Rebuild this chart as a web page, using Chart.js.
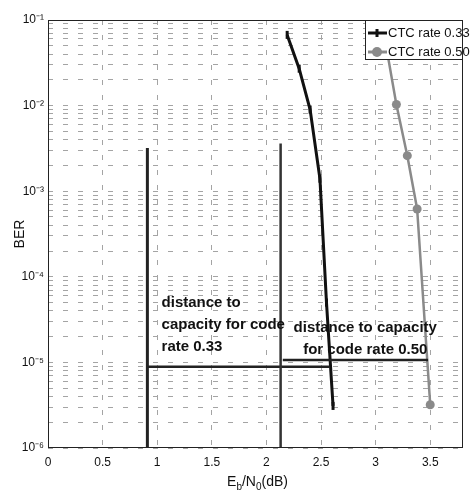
<!DOCTYPE html>
<html>
<head>
<meta charset="utf-8">
<script src="https://cdn.jsdelivr.net/npm/chart.js@4/dist/chart.umd.min.js"></script>
<style>
  html, body { margin: 0; padding: 0; background: #fff; }
  canvas { display: block; }
</style>
</head>
<body>
<canvas id="ber" width="470" height="494"></canvas>
<script>
// values (Eb/N0 in dB, BER)
const ebn0Rate033 = [2.19, 2.30, 2.40, 2.49, 2.55, 2.61];
const berRate033  = [6.7e-2, 2.7e-2, 9.0e-3, 1.4e-3, 5.0e-5, 3.1e-6];
const ebn0Rate050 = [3.08, 3.19, 3.29, 3.38, 3.50];
const berRate050  = [6.5e-2, 1.03e-2, 2.6e-3, 6.2e-4, 3.2e-6];

// capacity limits + distance lines
const capX033 = [0.91, 0.91];
const capY033 = [3.2e-3, 1e-6];
const capX050 = [2.13, 2.13];
const capY050 = [3.6e-3, 1e-6];
const distX033 = [0.91, 2.58];
const distY033 = [8.9e-6, 8.9e-6];
const distX050 = [2.15, 3.48];
const distY050 = [1.07e-5, 1.07e-5];

const xTicks = [0, 0.5, 1, 1.5, 2, 2.5, 3, 3.5];
const decades = [-6, -5, -4, -3, -2, -1];
const supers = {'-': '\u207B', '1': '\u00B9', '2': '\u00B2', '3': '\u00B3', '4': '\u2074', '5': '\u2075', '6': '\u2076'};

function pts(xs, ys) {
  return xs.map((x, i) => ({ x: x, y: ys[i] }));
}

const FONT = '"Liberation Sans Narrow", "Liberation Sans", Arial, sans-serif';

// frame around the axes, like matlab's box on
const framePlugin = {
  id: 'frame',
  afterDraw(chart) {
    const a = chart.chartArea;
    const ctx = chart.ctx;
    ctx.save();
    ctx.strokeStyle = '#222';
    ctx.lineWidth = 1;
    ctx.strokeRect(a.left + 0.5, a.top + 0.5, a.right - a.left - 1, a.bottom - a.top - 1);
    ctx.restore();
  }
};

// the two text notes
const notesPlugin = {
  id: 'notes',
  afterDatasetsDraw(chart) {
    const ctx = chart.ctx;
    const xs = chart.scales.x, ys = chart.scales.y;
    ctx.save();
    ctx.fillStyle = '#111';
    ctx.font = 'bold 15px ' + FONT;
    ctx.textBaseline = 'middle';
    ctx.textAlign = 'left';
    let x = xs.getPixelForValue(1.04), y = ys.getPixelForValue(4.94e-5);
    ['distance to', 'capacity for code', 'rate 0.33'].forEach((t, i) => ctx.fillText(t, x, y + i * 22));
    ctx.textAlign = 'center';
    x = xs.getPixelForValue(2.905); y = ys.getPixelForValue(2.52e-5);
    ['distance to capacity', 'for code rate 0.50'].forEach((t, i) => ctx.fillText(t, x, y + i * 22));
    ctx.restore();
  }
};

// legend box in the upper right corner
const legendPlugin = {
  id: 'boxLegend',
  afterDraw(chart) {
    const ctx = chart.ctx;
    const a = chart.chartArea;
    const items = chart.data.datasets.filter(d => d.inLegend);
    const w = 98, h = 40;
    const left = a.right - w, top = a.top;
    ctx.save();
    ctx.fillStyle = '#fff';
    ctx.fillRect(left, top, w, h);
    ctx.strokeStyle = '#222';
    ctx.lineWidth = 1;
    ctx.strokeRect(left + 0.5, top + 0.5, w - 1, h - 1);
    items.forEach((d, i) => {
      const cy = top + 13 + i * 19;
      ctx.strokeStyle = d.borderColor;
      ctx.lineWidth = 3;
      ctx.beginPath();
      ctx.moveTo(left + 3, cy);
      ctx.lineTo(left + 22, cy);
      ctx.stroke();
      ctx.fillStyle = d.borderColor;
      if (d.pointStyle === 'circle') {
        ctx.beginPath();
        ctx.arc(left + 12, cy, 5, 0, Math.PI * 2);
        ctx.fill();
      } else {
        ctx.lineWidth = 3;
        ctx.beginPath();
        ctx.moveTo(left + 12, cy - 4);
        ctx.lineTo(left + 12, cy + 4);
        ctx.stroke();
      }
      ctx.fillStyle = '#111';
      ctx.font = '13px ' + FONT;
      ctx.textAlign = 'left';
      ctx.textBaseline = 'middle';
      ctx.fillText(d.label, left + 23, cy);
    });
    ctx.restore();
  }
};

// x title with subscripts
const xTitlePlugin = {
  id: 'xTitle',
  afterDraw(chart) {
    const ctx = chart.ctx;
    const a = chart.chartArea;
    const parts = [['E', 0], ['b', 1], ['/N', 0], ['0', 1], ['(dB)', 0]];
    ctx.save();
    ctx.fillStyle = '#111';
    ctx.textBaseline = 'alphabetic';
    let total = 0;
    parts.forEach(p => { ctx.font = (p[1] ? '10px ' : '14px ') + FONT; total += ctx.measureText(p[0]).width; });
    let x = (a.left + a.right) / 2 - total / 2 + 2;
    const base = 486;
    parts.forEach(p => {
      ctx.font = (p[1] ? '10px ' : '14px ') + FONT;
      ctx.fillText(p[0], x, p[1] ? base + 4 : base);
      x += ctx.measureText(p[0]).width;
    });
    ctx.restore();
  }
};

new Chart(document.getElementById('ber'), {
  type: 'line',
  data: {
    datasets: [
      { label: 'cap033', data: pts(capX033, capY033), borderColor: '#222', borderWidth: 3, pointRadius: 0 },
      { label: 'cap050', data: pts(capX050, capY050), borderColor: '#333', borderWidth: 2.5, pointRadius: 0 },
      { label: 'dist033', data: pts(distX033, distY033), borderColor: '#222', borderWidth: 2.5, pointRadius: 0 },
      { label: 'dist050', data: pts(distX050, distY050), borderColor: '#222', borderWidth: 2.5, pointRadius: 0 },
      {
        label: 'CTC rate 0.33', inLegend: true,
        data: pts(ebn0Rate033, berRate033),
        borderColor: '#111', backgroundColor: '#111', borderWidth: 3,
        pointStyle: 'line', pointRadius: 4, pointBorderWidth: 3, rotation: 90
      },
      {
        label: 'CTC rate 0.50', inLegend: true,
        data: pts(ebn0Rate050, berRate050),
        borderColor: '#8a8a8a', backgroundColor: '#8a8a8a', borderWidth: 2.5,
        pointStyle: 'circle', pointRadius: 4.5, pointBorderWidth: 0
      }
    ]
  },
  options: {
    responsive: false,
    animation: false,
    devicePixelRatio: 1,
    layout: { padding: { top: 20, right: 2, left: 0, bottom: 0 } },
    plugins: { legend: { display: false }, tooltip: { enabled: false } },
    scales: {
      x: {
        type: 'linear', min: 0, max: 3.8,
        afterBuildTicks: s => { s.ticks = xTicks.map(v => ({ value: v })); },
        afterFit: s => { s.height = 46; },
        grid: { color: '#a4a4a4', lineWidth: 1, drawTicks: false },
        border: { display: false, dash: [5, 10] },
        ticks: { padding: 7, color: '#111', font: { family: FONT, size: 12 }, callback: v => String(v) }
      },
      y: {
        type: 'logarithmic', min: 1e-6, max: 1e-1,
        afterBuildTicks: s => {
          const t = [];
          decades.forEach(d => {
            for (let m = 1; m <= 9; m++) {
              if (d === -1 && m > 1) break;
              t.push({ value: m * Math.pow(10, d), major: m === 1 });
            }
          });
          s.ticks = t;
        },
        afterFit: s => { s.width = 48; },
        grid: { color: '#a4a4a4', lineWidth: 1, drawTicks: false },
        border: { display: false, dash: [5, 10] },
        title: { display: true, text: 'BER', color: '#111', font: { family: FONT, size: 14 }, padding: { top: 12, bottom: 0 } },
        ticks: {
          autoSkip: false, padding: 4, color: '#111', font: { family: FONT, size: 12 },
          callback: function (v) {
            const e = Math.log10(v);
            if (Math.abs(e - Math.round(e)) > 1e-6) return '';
            const s = String(Math.round(e)).split('').map(c => supers[c]).join('');
            return '10' + s;
          }
        }
      }
    }
  },
  plugins: [framePlugin, notesPlugin, legendPlugin, xTitlePlugin]
});
</script>
</body>
</html>
